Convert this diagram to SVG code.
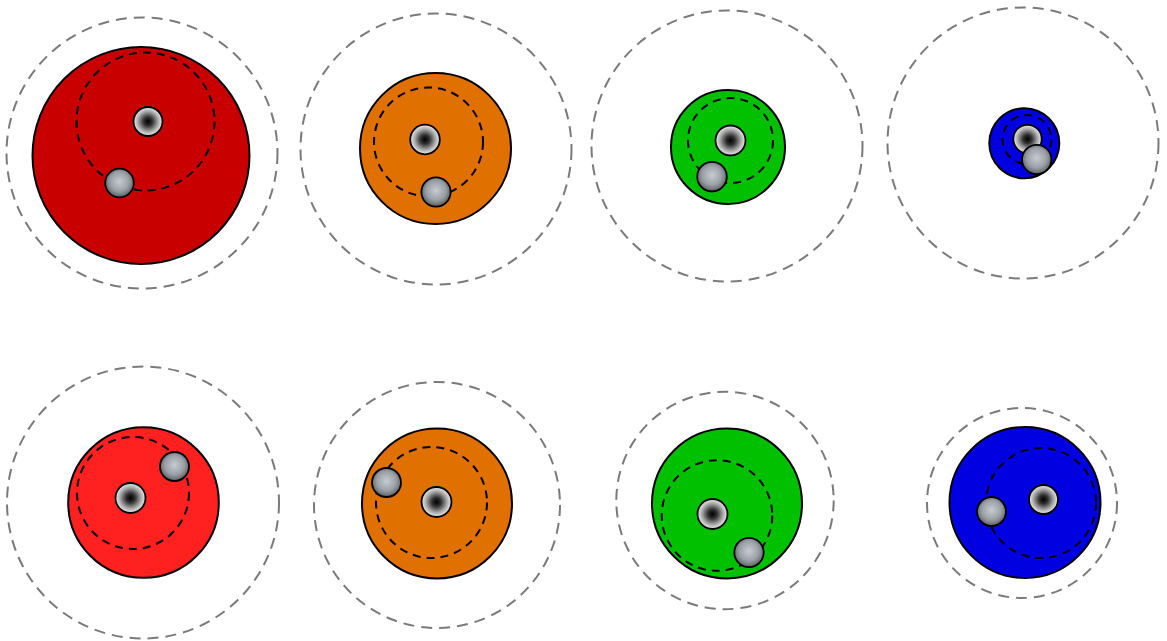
<svg xmlns="http://www.w3.org/2000/svg" width="1167" height="641" viewBox="0 0 1167 641">
<defs>
<radialGradient id="star" cx="0.5" cy="0.5" r="0.5">
<stop offset="0" stop-color="#000"/>
<stop offset="0.3" stop-color="#303030"/>
<stop offset="0.7" stop-color="#a8a8a8"/>
<stop offset="1" stop-color="#f0f0f0"/>
</radialGradient>
<radialGradient id="ball" cx="0.5" cy="0.45" r="0.55">
<stop offset="0" stop-color="#c6ccd2"/>
<stop offset="0.6" stop-color="#9aa0a6"/>
<stop offset="1" stop-color="#5a5e62"/>
</radialGradient>
</defs>
<style>
.outer{fill:none;stroke:#7a7a7a;stroke-width:2;stroke-dasharray:11 7}
.body{stroke:#000;stroke-width:2}
.orbit{fill:none;stroke:#000;stroke-width:2;stroke-dasharray:8 6}
.star{fill:url(#star);stroke:#000;stroke-width:1.8}
.ball{fill:url(#ball);stroke:#000;stroke-width:1.8}
</style>
<rect width="1167" height="641" fill="#fff"/>
<g id="sys1">
<circle class="outer" cx="142" cy="153" r="135.5"/>
<circle class="body" cx="141" cy="155.5" r="108.5" fill="#c80000"/>
<circle class="orbit" cx="145.5" cy="121.5" r="69"/>
<circle class="star" cx="148" cy="121.5" r="14.5"/>
<circle class="ball" cx="119.5" cy="183" r="14.3"/>
</g>
<g id="sys2">
<circle class="outer" cx="436" cy="149" r="135.5"/>
<circle class="body" cx="435.5" cy="148.5" r="75.5" fill="#e07000"/>
<circle class="orbit" cx="428.5" cy="142" r="54.5"/>
<circle class="star" cx="425" cy="139.5" r="14.8"/>
<circle class="ball" cx="436" cy="192" r="14.6"/>
</g>
<g id="sys3">
<circle class="outer" cx="727" cy="146" r="135.5"/>
<circle class="body" cx="728" cy="147" r="57" fill="#00c000"/>
<circle class="orbit" cx="730.5" cy="140.5" r="42.5"/>
<circle class="star" cx="730.5" cy="140.5" r="15"/>
<circle class="ball" cx="712" cy="176.7" r="14.8"/>
</g>
<g id="sys4">
<circle class="outer" cx="1023" cy="143" r="135.5"/>
<circle class="body" cx="1024.3" cy="143.3" r="35" fill="#0000e0"/>
<circle class="orbit" cx="1027" cy="139.5" r="24.5"/>
<circle class="star" cx="1027.5" cy="139" r="14.2"/>
<circle class="ball" cx="1036.7" cy="159.5" r="14.7"/>
</g>
<g id="sys5">
<circle class="outer" cx="143" cy="502.5" r="136"/>
<circle class="body" cx="143.5" cy="502.5" r="75.3" fill="#ff2020"/>
<circle class="orbit" cx="133" cy="493" r="56"/>
<circle class="star" cx="130.5" cy="498" r="15"/>
<circle class="ball" cx="174.5" cy="466.5" r="14.5"/>
</g>
<g id="sys6">
<circle class="outer" cx="437" cy="505" r="123"/>
<circle class="body" cx="437" cy="503.5" r="75" fill="#e07000"/>
<circle class="orbit" cx="431.5" cy="502.5" r="55.5"/>
<circle class="star" cx="436.5" cy="502" r="15"/>
<circle class="ball" cx="386.5" cy="482.5" r="14.5"/>
</g>
<g id="sys7">
<circle class="outer" cx="725" cy="500.5" r="108.7"/>
<circle class="body" cx="727" cy="503.5" r="75" fill="#00c000"/>
<circle class="orbit" cx="717" cy="515.5" r="55.3"/>
<circle class="star" cx="712.5" cy="514" r="15"/>
<circle class="ball" cx="749" cy="552.5" r="14.7"/>
</g>
<g id="sys8">
<circle class="outer" cx="1022" cy="503" r="95"/>
<circle class="body" cx="1025" cy="502.5" r="75.5" fill="#0000e0"/>
<circle class="orbit" cx="1041" cy="503" r="55"/>
<circle class="star" cx="1043.5" cy="499.5" r="14.5"/>
<circle class="ball" cx="991.5" cy="511.5" r="14.5"/>
</g>
<g id="connectors"></g>
</svg>
